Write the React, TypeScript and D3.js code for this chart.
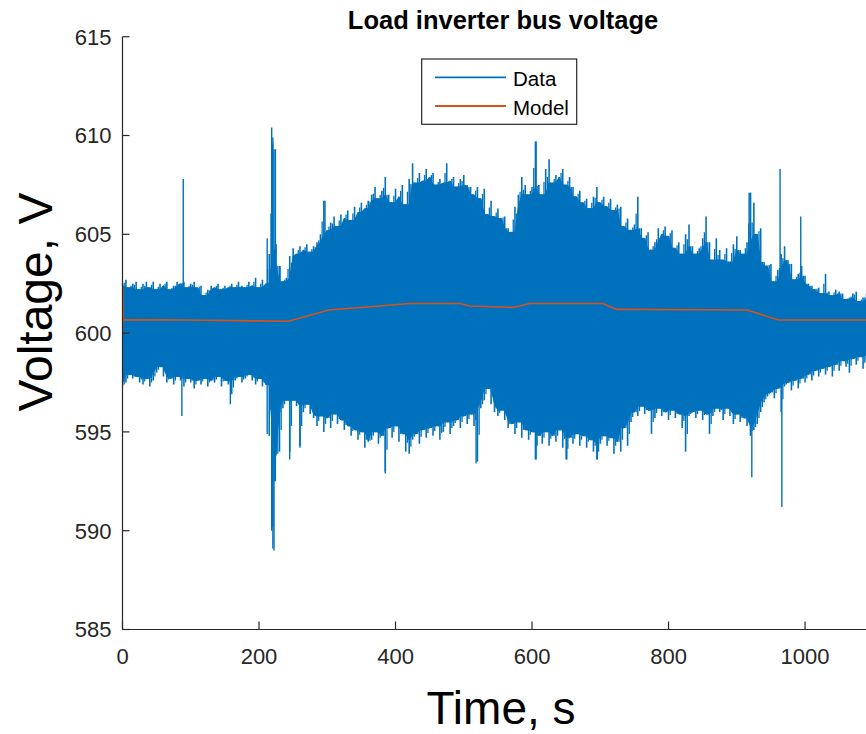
import React from "react";
import * as d3 from "d3";

// ---- data ----
const DATA_STEP = 5; // seconds between envelope samples
const dataUpper: number[] = [
  602.4, 602.7, 602.3, 602.5, 602.6, 602.2, 602.5, 602.6, 602.3, 602.6,
  602.2, 602.5, 602.4, 602.6, 602.2, 602.4, 602.6, 602.5, 602.6, 602.3,
  602.5, 602.6, 602.3, 602.4, 601.9, 602.2, 602.4, 602.3, 602.5, 602.2,
  602.4, 602.3, 602.5, 602.3, 602.6, 602.4, 602.3, 602.6, 602.4, 602.8,
  602.3, 602.7, 602.5,
  604.0, 609.6, 604.5, 603.4, 602.6, 602.8, 603.9, 604.3, 604.0, 604.4,
  604.2, 604.5, 604.1, 604.4, 604.6, 605.0, 606.7, 605.2, 605.6, 605.9,
  605.4, 606.0, 605.8, 606.2, 605.7, 606.4, 606.1, 606.6, 606.3, 606.7,
  607.0, 607.4, 606.8, 607.2, 607.9, 607.0, 606.6, 607.3, 606.9, 607.5,
  606.5, 607.8, 608.6, 607.6, 608.1, 607.7, 608.3, 607.9, 608.1, 607.5,
  607.8, 607.6, 608.6, 607.7, 607.9, 607.4, 607.8, 608.0, 607.5, 607.4,
  607.0, 607.4, 606.8, 607.3, 606.0, 606.7, 605.9, 606.3, 605.8, 605.9,
  605.3, 605.1, 606.4, 607.0, 607.9, 607.5, 607.0, 607.4, 609.7, 607.5,
  607.0, 608.3, 608.8, 607.6, 608.0, 607.9, 608.3, 607.5, 607.9, 607.4,
  606.9, 607.2, 606.6, 606.8, 606.3, 606.9, 607.4, 606.6, 606.9, 606.4,
  606.8, 606.2, 606.5, 606.4,
  605.4, 605.8, 605.2, 605.5, 606.9, 605.3, 604.8, 605.1, 604.2, 604.6,
  605.3, 605.0, 605.4, 604.9, 605.2, 604.3, 604.6, 604.0, 605.0, 605.5,
  604.4, 604.0, 604.3, 604.8, 605.9, 604.6, 603.7, 604.8, 604.2, 603.7,
  604.3, 603.6, 604.5, 604.9, 604.2, 604.0, 604.6, 607.1, 606.6, 605.0,
  605.3, 603.6, 603.4, 603.5, 602.6, 603.2, 604.0, 604.4, 603.7, 603.5,
  602.7, 603.0, 603.4, 602.9, 602.5, 602.4, 602.2, 602.3, 602.0, 603.0,
  602.1, 601.9, 602.2, 602.1, 602.0, 601.7, 601.8, 602.0, 602.1, 601.6,
  601.8, 602.0, 601.7, 602.1, 601.9, 602.0,
];
const dataLower: number[] = [
  597.3, 597.5, 597.9, 597.7, 597.8, 597.5, 597.4, 597.7, 597.3, 597.6,
  598.0, 598.3, 597.8, 597.5, 597.7, 597.4, 597.8, 597.6, 597.3, 597.7,
  597.5, 597.2, 597.6, 597.4, 597.7, 597.3, 597.6, 597.5, 597.8, 597.3,
  597.6, 597.4, 596.9, 597.6, 597.8, 597.5, 597.7, 597.9, 597.6, 597.4,
  597.7, 597.3, 597.4,
  594.8, 590.2, 593.8, 594.0, 596.2, 596.6, 594.0, 596.6, 596.3, 594.3,
  596.0, 596.4, 595.9, 595.7, 595.3, 595.8, 595.0, 595.7, 595.2, 595.9,
  595.4, 595.6, 595.1, 595.3, 594.8, 595.1, 594.6, 595.0, 594.2, 594.5,
  594.6, 595.0, 594.4, 594.8, 593.0, 595.2, 594.7, 595.3, 594.5, 594.9,
  594.0, 593.9, 594.6, 594.9, 594.4, 595.1, 594.7, 595.2, 594.8, 595.3,
  594.6, 595.0, 595.5, 594.9, 595.3, 595.6, 595.2, 595.8, 595.4, 595.9,
  595.3, 593.5, 596.2, 596.6, 597.2, 596.4, 596.0, 595.8, 596.1, 595.6,
  595.2, 595.4, 594.9, 595.5, 594.7, 595.1, 594.6, 595.0, 593.6, 594.8,
  594.4, 595.0, 594.3, 594.8, 594.5, 595.1, 594.2, 593.6, 594.7, 594.4,
  594.9, 594.3, 594.8, 594.2, 594.6, 594.0, 593.6, 594.4, 594.8, 594.3,
  594.7, 593.9, 594.5, 594.0,
  595.2, 594.3, 595.5, 596.0, 595.8, 596.3, 595.9, 596.1, 594.9, 595.7,
  596.2, 595.8, 596.0, 595.6, 596.1, 595.7, 595.9, 595.2, 594.0, 595.8,
  596.0, 595.7, 596.1, 595.6, 595.9, 594.9, 595.8, 596.2, 596.0, 595.6,
  596.2, 595.8, 595.4, 595.9, 595.5, 595.7, 595.3, 594.8, 595.1, 595.4,
  596.0, 596.5, 596.8, 597.0, 596.7, 597.2, 596.0, 597.3, 597.5, 597.1,
  597.6, 597.2, 597.7, 597.5, 597.9, 597.6, 598.1, 597.8, 598.2, 597.9,
  598.3, 597.8, 598.4, 598.1, 598.6, 598.3, 598.0, 598.7, 598.4, 598.8,
  598.2, 598.6, 598.9, 598.5, 598.8, 598.7,
];
// isolated spikes of the measured signal: time, low, high
const spikeT: number[] = [87, 89, 158, 212, 218.6, 220.3, 222, 224, 230.8, 245, 260, 296.7, 385, 518, 606, 651, 695.7, 918, 920, 922, 963.4, 966, 993.7];
const spikeLo: number[] = [595.8, 600, 596.4, 594.9, 590.0, 589.1, 589.0, 592.5, 596.0, 593.6, 594.2, 600, 592.9, 593.4, 593.6, 593.6, 593.6, 600, 600, 592.7, 600, 591.2, 600];
const spikeHi: number[] = [600, 607.8, 600, 604.8, 610.4, 609.9, 609.3, 609.3, 603.4, 600, 600, 606.7, 600, 600, 609.7, 600, 600, 607.1, 607.1, 600, 608.3, 600, 605.9];

const modelT: number[] = [0, 0.5, 1, 90, 243, 302, 363, 421, 494, 509, 572, 597, 704, 724, 915, 961, 1112];
const modelV: number[] = [600.07, 602.35, 600.68, 600.66, 600.6, 601.17, 601.33, 601.5, 601.5, 601.37, 601.3, 601.5, 601.5, 601.2, 601.17, 600.66, 600.66];

const xTicks: number[] = [0, 200, 400, 600, 800, 1000];
const yTicks: number[] = [585, 590, 595, 600, 605, 610, 615];

const TITLE = "Load inverter bus voltage";
const X_LABEL = "Time, s";
const Y_LABEL = "Voltage, V";
const LEGEND = ["Data", "Model"];

const BLUE = "#0072BD";
const ORANGE = "#D95319";
const AXIS = "#262626";
const FONT = "'Liberation Sans', Arial, Helvetica, sans-serif";

export default function App() {
  const W = 866;
  const H = 734;
  const x = d3.scaleLinear().domain([0, 1112]).range([122.5, 881.5]);
  const y = d3.scaleLinear().domain([585, 615]).range([629.5, 36.7]);
  const times = dataUpper.map((_, i) => i * DATA_STEP);
  const n = dataUpper.length;

  // inner core of the oscillating signal: the band every neighbouring sample reaches
  const coreHi = dataUpper.map((_, i) =>
    d3.min([dataUpper[Math.max(0, i - 1)], dataUpper[i], dataUpper[Math.min(n - 1, i + 1)]]) as number
  );
  const coreLo = dataLower.map((_, i) =>
    d3.max([dataLower[Math.max(0, i - 1)], dataLower[i], dataLower[Math.min(n - 1, i + 1)]]) as number
  );

  const core = d3
    .area<number>()
    .x((_, i) => x(times[i]))
    .y0((_, i) => y(coreLo[i]))
    .y1((_, i) => y(coreHi[i]))(coreHi) as string;

  const model = d3
    .line<number>()
    .x((_, i) => x(modelT[i]))
    .y((d) => y(d))(modelV) as string;

  const [x0, x1] = x.range();
  const [yb, yt] = y.range();

  return (
    <svg
      width={W}
      height={H}
      style={{ position: "absolute", left: 0, top: 0, background: "#fff" }}
    >
      <defs>
        <clipPath id="plotclip">
          <rect x={x0} y={yt - 2} width={x1 - x0} height={yb - yt + 4} />
        </clipPath>
      </defs>
      <rect x={0} y={0} width={W} height={H} fill="#fff" />

      {/* Data */}
      <g clipPath="url(#plotclip)">
        <path d={core} fill={BLUE} stroke={BLUE} strokeWidth={1} />
        {times.map((t, i) => (
          <line
            key={"s" + i}
            x1={x(t)}
            x2={x(t)}
            y1={y(dataLower[i])}
            y2={y(dataUpper[i])}
            stroke={BLUE}
            strokeWidth={1.6}
          />
        ))}
        {times.map((t, i) =>
          i < n - 1 ? (
            <line
              key={"m" + i}
              x1={x(t + DATA_STEP / 2)}
              x2={x(t + DATA_STEP / 2)}
              y1={y((dataLower[i] + coreLo[i]) / 2)}
              y2={y((dataUpper[i + 1] + coreHi[i]) / 2)}
              stroke={BLUE}
              strokeWidth={1.3}
            />
          ) : null
        )}
        {spikeT.map((t, i) => (
          <line
            key={i}
            x1={x(t)}
            x2={x(t)}
            y1={y(spikeLo[i])}
            y2={y(spikeHi[i])}
            stroke={BLUE}
            strokeWidth={1.4}
          />
        ))}
        <path d={model} fill="none" stroke={ORANGE} strokeWidth={1.6} />
      </g>

      {/* Axes */}
      <line x1={x0} x2={x0} y1={yb} y2={yt} stroke={AXIS} strokeWidth={1.2} />
      <line x1={x0} x2={x1} y1={yb} y2={yb} stroke={AXIS} strokeWidth={1.2} />
      {yTicks.map((v) => (
        <g key={v}>
          <line x1={x0} x2={x0 + 7} y1={y(v)} y2={y(v)} stroke={AXIS} strokeWidth={1.2} />
          <text
            x={111.5}
            y={y(v)}
            dy="0.36em"
            textAnchor="end"
            fontFamily={FONT}
            fontSize={22}
            fill={AXIS}
          >
            {v}
          </text>
        </g>
      ))}
      {xTicks.map((v) => (
        <g key={v}>
          <line x1={x(v)} x2={x(v)} y1={yb} y2={yb - 8} stroke={AXIS} strokeWidth={1.2} />
          <text
            x={x(v)}
            y={664}
            textAnchor="middle"
            fontFamily={FONT}
            fontSize={22}
            fill={AXIS}
          >
            {v}
          </text>
        </g>
      ))}

      {/* Title and labels */}
      <text
        x={503}
        y={29}
        textAnchor="middle"
        fontFamily={FONT}
        fontSize={25.5}
        fontWeight="bold"
        fill="#000"
      >
        {TITLE}
      </text>
      <text
        x={501}
        y={723.5}
        textAnchor="middle"
        fontFamily={FONT}
        fontSize={46}
        fill="#000"
      >
        {X_LABEL}
      </text>
      <text
        transform={`translate(52,302) rotate(-90)`}
        textAnchor="middle"
        fontFamily={FONT}
        fontSize={48}
        fill="#000"
      >
        {Y_LABEL}
      </text>

      {/* Legend */}
      <rect x={421.7} y={59} width={155} height={65.3} fill="#fff" stroke={AXIS} strokeWidth={1.2} />
      <line x1={435} x2={506} y1={77.3} y2={77.3} stroke={BLUE} strokeWidth={1.8} />
      <line x1={435} x2={506} y1={106} y2={106} stroke={ORANGE} strokeWidth={1.8} />
      <text x={513} y={86} fontFamily={FONT} fontSize={20.5} fill="#000">
        {LEGEND[0]}
      </text>
      <text x={513} y={114.5} fontFamily={FONT} fontSize={20.5} fill="#000">
        {LEGEND[1]}
      </text>
    </svg>
  );
}
